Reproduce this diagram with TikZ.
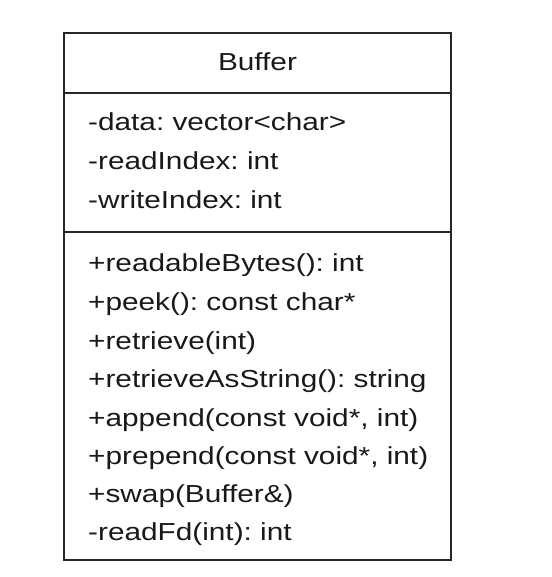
\documentclass[tikz,border=0pt]{standalone}
\usepackage{fontspec}
\setmainfont[FakeStretch=1.21]{Liberation Sans}
\frenchspacing
\begin{document}
\begin{tikzpicture}[x=1pt,y=-1pt,
  member/.style={anchor=base west,inner sep=0pt,font=\fontsize{24.6}{28}\selectfont\frenchspacing,text=black!90},
  title/.style={anchor=base,inner sep=0pt,font=\fontsize{24.6}{28}\selectfont,text=black!90},
  frame/.style={draw=black!85,line width=2.6pt}]
\useasboundingbox (0,0) rectangle (551,577);
\coordinate (tl) at (64,33);
\coordinate (br) at (451,560);
\coordinate (h1l) at (64,93);
\coordinate (h1r) at (451,93);
\coordinate (h2l) at (64,232);
\coordinate (h2r) at (451,232);
\draw[frame] (tl) rectangle (br);
\draw[frame] (h1l) -- (h1r);
\draw[frame] (h2l) -- (h2r);
\node[title] (name) at (257.5,71) {Buffer};
\node[member] (a1) at (88,131) {-data: vector<char>};
\node[member] (a2) at (88,169.5) {-readIndex: int};
\node[member] (a3) at (88,208) {-writeIndex: int};
\node[member] (m1) at (88,271) {+readableBytes(): int};
\node[member] (m2) at (88,310) {+peek(): const char*};
\node[member] (m3) at (88,349) {+retrieve(int)};
\node[member] (m4) at (88,387) {+retrieveAsString(): string};
\node[member] (m5) at (88,426) {+append(const void*, int)};
\node[member] (m6) at (88,464) {+prepend(const void*, int)};
\node[member] (m7) at (88,502) {+swap(Buffer\&)};
\node[member] (m8) at (88,540) {-readFd(int): int};
\end{tikzpicture}
\end{document}
